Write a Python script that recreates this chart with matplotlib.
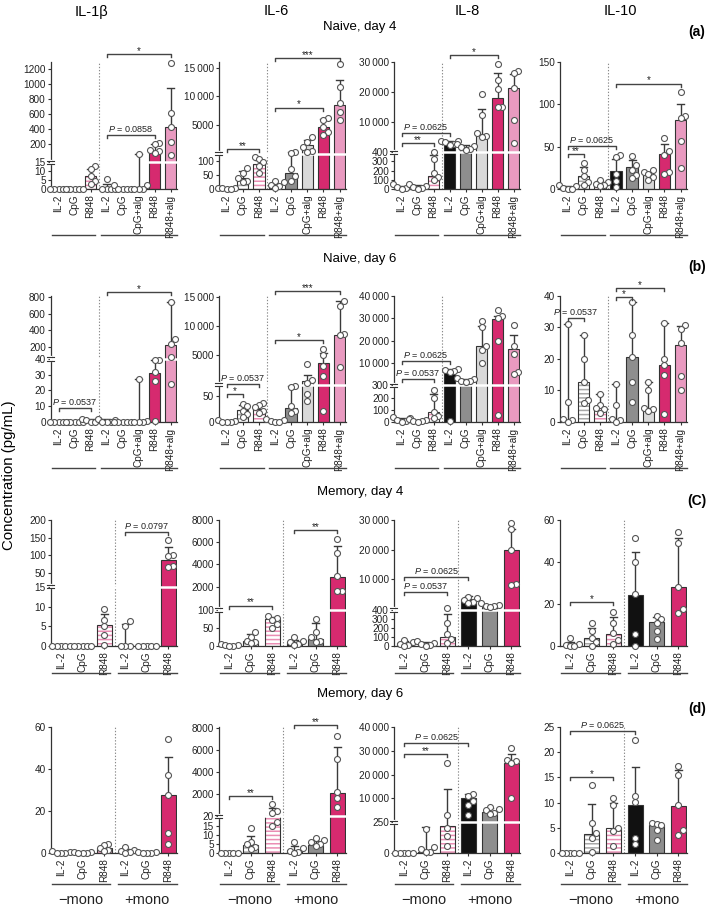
import numpy as np
import matplotlib
matplotlib.use('Agg')
import matplotlib.pyplot as plt
from matplotlib.lines import Line2D

plt.rcParams['font.family'] = ['Liberation Sans', 'DejaVu Sans']
plt.rcParams['mathtext.fontset'] = 'custom'
plt.rcParams['mathtext.it'] = 'Liberation Sans:italic'
plt.rcParams['mathtext.rm'] = 'Liberation Sans'
plt.rcParams['hatch.linewidth'] = 1.1

# ---------------- text / categories ----------------
CYTOKINES = ['IL-1β', 'IL-6', 'IL-8', 'IL-10']
ROW_TITLES = ['Naive, day 4', 'Naive, day 6', 'Memory, day 4', 'Memory, day 6']
PANEL_TAGS = ['(a)', '(b)', '(C)', '(d)']
GROUPS = ['\u2212mono', '+mono']
YLABEL = 'Concentration (pg/mL)'
CATS_8 = ['IL-2', 'CpG', 'R848', 'IL-2', 'CpG', 'CpG+alg', 'R848', 'R848+alg']
CATS_6 = ['IL-2', 'CpG', 'R848', 'IL-2', 'CpG', 'R848']

# ---------------- Naive, day 4 ----------------
N4_IL1B_TICKS = [0, 5, 10, 15, 200, 400, 600, 800, 1000, 1200]
N4_IL1B_BAR = [0, 0, 7.5, 0.5, 0, 1, 100, 420]
N4_IL1B_ERR = [0, 0, 11, 3, 0, 60, 200, 950]
N4_IL1B_PTS = [[0, 0, 0, 0, 0], [0, 0, 0, 0, 0], [13, 11, 7.5, 4.5, 3], [5.5, 0, 0, 0, 0],
               [2, 0, 0, 0, 0], [60, 2, 0, 0, 0], [215, 195, 120, 100, 80], [1290, 610, 420, 220, 55]]
N4_IL1B_SIG = [(3, 7, '*'), (3, 6, '$P$ = 0.0858')]

N4_IL6_TICKS = [0, 50, 100, 5000, 10000, 15000]
N4_IL6_BAR = [2, 40, 88, 15, 55, 1500, 4700, 8500]
N4_IL6_ERR = [4, 65, 102, 22, 350, 2400, 6000, 12800]
N4_IL6_PTS = [[5, 3, 2, 0, 0], [75, 55, 40, 30, 25], [115, 105, 95, 80, 58], [30, 25, 15, 10, 5],
              [350, 130, 70, 45, 30], [2950, 2100, 1100, 520, 350], [6200, 5800, 4700, 3700, 3300],
              [15600, 11600, 8900, 7200, 5800]]
N4_IL6_SIG = [(0, 2, '**'), (3, 7, '***'), (3, 6, '*')]

N4_IL8_TICKS = [0, 100, 200, 300, 400, 10000, 20000, 30000]
N4_IL8_BAR = [20, 20, 140, 3200, 1900, 6000, 18000, 21500]
N4_IL8_ERR = [35, 40, 370, 3900, 2500, 14500, 26500, 26000]
N4_IL8_PTS = [[50, 35, 20, 10, 5], [50, 35, 20, 10, 5], [400, 330, 170, 130, 100],
              [3900, 3600, 3300, 2900, 2500], [2800, 2200, 1900, 1200, 900],
              [19400, 12400, 6300, 5500, 5200], [29300, 24000, 21200, 15200, 15000],
              [27200, 26500, 21500, 10800, 3200]]
N4_IL8_SIG = [(0, 2, '**'), (0, 3, '$P$ = 0.0625'), (3, 6, '*')]

N4_IL10_TICKS = [0, 50, 100, 150]
N4_IL10_BAR = [1, 15, 5, 21, 26, 16, 41, 81]
N4_IL10_ERR = [3, 25.5, 10, 35, 34, 20, 53, 100]
N4_IL10_PTS = [[5, 3, 1, 0, 0], [31, 22, 15, 8, 5], [11, 8, 6, 5, 4], [40, 38, 18, 9, 2],
               [39, 28, 22, 17, 12.5], [23, 20, 18, 14, 11], [60, 45, 40, 20, 18], [114, 86, 84, 57, 25]]
N4_IL10_SIG = [(0, 1, '**'), (0, 3, '$P$ = 0.0625'), (3, 7, '*')]

# ---------------- Naive, day 6 ----------------
N6_IL1B_TICKS = [0, 10, 20, 30, 40, 200, 400, 600, 800]
N6_IL1B_BAR = [0, 0, 1, 0.5, 0, 0.5, 31, 220]
N6_IL1B_ERR = [0, 0, 2, 2, 0, 27, 42, 740]
N6_IL1B_PTS = [[0, 0, 0, 0, 0], [0, 0, 0, 0, 0], [2, 1, 1, 0, 0], [2, 1, 0, 0, 0],
               [0, 0, 0, 0, 0], [27, 0.5, 0, 0, 0], [42, 41, 32, 26, 0.5], [740, 290, 235, 80, 24]]
N6_IL1B_SIG = [(0, 2, '$P$ = 0.0537'), (3, 7, '*')]

N6_IL6_TICKS = [0, 50, 5000, 10000, 15000]
N6_IL6_BAR = [1, 23, 25, 1, 27, 400, 3500, 8500]
N6_IL6_ERR = [2, 33, 30, 3, 69, 1500, 5300, 14400]
N6_IL6_PTS = [[3, 1, 0, 0, 0], [35, 30, 22, 15, 10], [37, 33, 28, 22, 17], [5, 3, 1, 0, 0],
              [69, 68, 30, 22, 18], [3400, 700, 150, 55, 40], [6000, 5000, 3000, 1300, 21],
              [14300, 13500, 8700, 8500, 2900]]
N6_IL6_SIG = [(0, 1, '*'), (0, 2, '$P$ = 0.0537'), (3, 7, '***'), (3, 6, '*')]

N6_IL8_TICKS = [0, 100, 200, 300, 10000, 20000, 30000, 40000]
N6_IL8_BAR = [10, 10, 85, 6000, 1900, 17500, 29500, 16500]
N6_IL8_ERR = [30, 20, 226, 7500, 3000, 26600, 31000, 22500]
N6_IL8_PTS = [[40, 30, 15, 5, 0], [25, 20, 10, 5, 0], [260, 200, 80, 50, 30],
              [7300, 6800, 6300, 5800, 10], [3500, 2700, 2000, 1800, 1500],
              [29000, 26000, 17500, 16000, 10000], [33700, 31000, 30000, 20000, 57],
              [27000, 17500, 14000, 6000, 5000]]
N6_IL8_SIG = [(0, 2, '$P$ = 0.0537'), (0, 3, '$P$ = 0.0625')]

N6_IL10_TICKS = [0, 10, 20, 30, 40]
N6_IL10_BAR = [0.5, 12.8, 4.9, 0.5, 20.5, 4.3, 18.1, 24.6]
N6_IL10_ERR = [31, 27.5, 9, 12, 38, 12.8, 31.4, 30.5]
N6_IL10_PTS = [[31, 6.5, 1, 0.5, 0], [27.5, 20, 12.8, 7, 6], [9, 5.5, 4.5, 4, 3], [12, 5.3, 1, 0.5, 0],
               [38, 27.5, 20.5, 12.8, 6.5], [12.8, 10.2, 4.5, 4, 3.5], [31.4, 19.9, 18, 15, 2.5],
               [30.9, 29.5, 25, 14.5, 10.2]]
N6_IL10_SIG = [(0, 1, '$P$ = 0.0537'), (3, 4, '*'), (3, 6, '*')]

# ---------------- Memory, day 4 ----------------
M4_IL1B_TICKS = [0, 5, 10, 15, 50, 100, 150, 200]
M4_IL1B_BAR = [0, 0, 5.4, 0.3, 0, 86]
M4_IL1B_ERR = [0, 0, 8, 5.6, 0, 124]
M4_IL1B_PTS = [[0, 0, 0, 0, 0], [0, 0, 0, 0, 0], [9.3, 6.5, 5, 2.7, 0.3], [6.3, 5, 0, 0, 0],
               [0, 0, 0, 0, 0], [143, 100, 97, 70, 65]]
M4_IL1B_SIG = [(3, 5, '$P$ = 0.0797')]

M4_IL6_TICKS = [0, 50, 100, 2000, 4000, 6000, 8000]
M4_IL6_BAR = [2, 15, 75, 10, 20, 2900]
M4_IL6_ERR = [3, 33, 80, 17, 63, 5700]
M4_IL6_PTS = [[5, 3, 2, 1, 0], [40, 25, 15, 10, 8], [83, 78, 72, 60, 50], [25, 15, 10, 5, 3],
              [75, 40, 25, 15, 10], [6300, 5000, 3000, 1650, 1600]]
M4_IL6_SIG = [(0, 2, '**'), (3, 5, '**')]

M4_IL8_TICKS = [0, 100, 200, 300, 400, 10000, 20000, 30000]
M4_IL8_BAR = [30, 25, 105, 3300, 820, 20000]
M4_IL8_ERR = [50, 40, 350, 4300, 1500, 27000]
M4_IL8_PTS = [[70, 40, 20, 10, 5], [50, 30, 20, 10, 5], [420, 250, 130, 80, 30],
              [4000, 3800, 3000, 2500, 2000], [1900, 1500, 1200, 900, 800],
              [29000, 27000, 20000, 8500, 8000]]
M4_IL8_SIG = [(0, 2, '$P$ = 0.0537'), (0, 3, '$P$ = 0.0625')]

M4_IL10_TICKS = [0, 20, 40, 60]
M4_IL10_BAR = [0.5, 4, 5.8, 24.5, 11.5, 28]
M4_IL10_ERR = [2, 8.5, 14, 45, 14, 51.5]
M4_IL10_PTS = [[4, 1, 0.5, 0, 0], [11, 7, 4, 2, 0], [16, 11, 6, 3, 1], [51.5, 40, 25, 5.7, 0],
               [14.5, 13, 11, 7, 3.5], [54.5, 49, 28, 17.5, 15.5]]
M4_IL10_SIG = [(0, 2, '*')]

# ---------------- Memory, day 6 ----------------
M6_IL1B_TICKS = [0, 20, 40, 60]
M6_IL1B_BAR = [0.3, 0.3, 2.5, 1, 0.3, 27.5]
M6_IL1B_ERR = [0, 0, 4, 2, 0, 45.5]
M6_IL1B_PTS = [[1, 0.5, 0, 0, 0], [0.5, 0.5, 0, 0, 0], [4.5, 4, 2.5, 1.5, 1], [3, 1.5, 1, 0.5, 0],
               [0.5, 0.5, 0, 0, 0], [54.5, 37, 27.5, 9.5, 4.5]]
M6_IL1B_SIG = []

M6_IL6_TICKS = [0, 5, 10, 15, 20, 2000, 4000, 6000, 8000]
M6_IL6_BAR = [0, 4.5, 20, 1.5, 4.5, 2060]
M6_IL6_ERR = [0, 9.5, 700, 4, 6.5, 6300]
M6_IL6_PTS = [[0, 0, 0, 0, 0], [13.5, 6, 5, 3.5, 2], [1100, 420, 250, 17, 15], [6, 2.5, 1, 0.5, 0],
              [8, 7, 6, 5, 4], [7300, 5200, 2200, 1600, 800]]
M6_IL6_SIG = [(0, 2, '**'), (3, 5, '**')]

M6_IL8_TICKS = [0, 250, 10000, 20000, 30000, 40000]
M6_IL8_BAR = [0, 12, 215, 9950, 4100, 25000]
M6_IL8_ERR = [0, 210, 14000, 12000, 5800, 28800]
M6_IL8_PTS = [[0, 0, 0, 0, 0], [195, 50, 30, 10, 5], [25000, 2800, 200, 140, 55],
              [11700, 11000, 9000, 7200, 2800], [6300, 5700, 5000, 4000, 3500],
              [31000, 26000, 25500, 25000, 10000]]
M6_IL8_SIG = [(0, 2, '**'), (0, 3, '$P$ = 0.0625')]

M6_IL10_TICKS = [0, 5, 10, 15, 20, 25]
M6_IL10_BAR = [0, 3.7, 4.9, 9.6, 5.5, 9.4]
M6_IL10_ERR = [0, 9.8, 10, 17, 6, 16.5]
M6_IL10_PTS = [[0, 0, 0, 0, 0], [13.5, 6, 4, 3, 0.2], [11, 9.5, 5, 4.3, 1.3], [22.4, 11.3, 10.1, 3, 1.8],
               [6, 5.8, 5.5, 4.5, 2.5], [17.2, 15.5, 9.5, 4.5, 3.5]]
M6_IL10_SIG = [(0, 2, '*'), (0, 3, '$P$ = 0.0625')]

PANELS = [
    [(N4_IL1B_TICKS, N4_IL1B_BAR, N4_IL1B_ERR, N4_IL1B_PTS, N4_IL1B_SIG),
     (N4_IL6_TICKS, N4_IL6_BAR, N4_IL6_ERR, N4_IL6_PTS, N4_IL6_SIG),
     (N4_IL8_TICKS, N4_IL8_BAR, N4_IL8_ERR, N4_IL8_PTS, N4_IL8_SIG),
     (N4_IL10_TICKS, N4_IL10_BAR, N4_IL10_ERR, N4_IL10_PTS, N4_IL10_SIG)],
    [(N6_IL1B_TICKS, N6_IL1B_BAR, N6_IL1B_ERR, N6_IL1B_PTS, N6_IL1B_SIG),
     (N6_IL6_TICKS, N6_IL6_BAR, N6_IL6_ERR, N6_IL6_PTS, N6_IL6_SIG),
     (N6_IL8_TICKS, N6_IL8_BAR, N6_IL8_ERR, N6_IL8_PTS, N6_IL8_SIG),
     (N6_IL10_TICKS, N6_IL10_BAR, N6_IL10_ERR, N6_IL10_PTS, N6_IL10_SIG)],
    [(M4_IL1B_TICKS, M4_IL1B_BAR, M4_IL1B_ERR, M4_IL1B_PTS, M4_IL1B_SIG),
     (M4_IL6_TICKS, M4_IL6_BAR, M4_IL6_ERR, M4_IL6_PTS, M4_IL6_SIG),
     (M4_IL8_TICKS, M4_IL8_BAR, M4_IL8_ERR, M4_IL8_PTS, M4_IL8_SIG),
     (M4_IL10_TICKS, M4_IL10_BAR, M4_IL10_ERR, M4_IL10_PTS, M4_IL10_SIG)],
    [(M6_IL1B_TICKS, M6_IL1B_BAR, M6_IL1B_ERR, M6_IL1B_PTS, M6_IL1B_SIG),
     (M6_IL6_TICKS, M6_IL6_BAR, M6_IL6_ERR, M6_IL6_PTS, M6_IL6_SIG),
     (M6_IL8_TICKS, M6_IL8_BAR, M6_IL8_ERR, M6_IL8_PTS, M6_IL8_SIG),
     (M6_IL10_TICKS, M6_IL10_BAR, M6_IL10_ERR, M6_IL10_PTS, M6_IL10_SIG)],
]
ROW_CATS = [CATS_8, CATS_8, CATS_6, CATS_6]

# ---------------- layout / style ----------------
W, H = 709, 906
ROW_PX = [(62, 189), (296, 422), (520, 646), (727, 853)]
COL_PX = [(51, 177), (219, 346), (394, 520), (560, 687)]
GROUP_LINE_PX = [235, 468, 673, 884]
# broken-axis parameters: (break value, axes fraction of break, upper start value, top)
SCALES = [
    [(15, 0.21, -50, 1300), (125, 0.278, 0, 16000), (400, 0.289, 0, 30100), (None, None, None, 150)],
    [(40, 0.5, 50, 812), (72, 0.296, -200, 15230), (300, 0.29, 0, 40000), (None, None, None, 40)],
    [(15, 0.47, 10, 200), (100, 0.286, -100, 8000), (400, 0.286, -300, 30000), (None, None, None, 60)],
    [(None, None, None, 60), (20, 0.29, -45, 8100), (250, 0.245, 0, 40000), (None, None, None, 25)],
]
SIG_Y = [
    [[1.063, 0.425], [0.315, 1.03, 0.64], [0.36, 0.44, 1.055], [0.276, 0.34, 0.83]],
    [[0.11, 1.03], [0.22, 0.30, 1.04, 0.65], [0.34, 0.485], [0.825, 0.99, 1.06]],
    [[0.905], [0.32, 0.92], [0.43, 0.55], [0.35]],
    [[], [0.45, 1.015], [0.785, 0.87], [0.6, 0.97]],
]
STYLES_8 = ['open', 'hgrey', 'hpink', 'black', 'grey', 'lgrey', 'magenta', 'pink']
STYLES_6 = ['open', 'hgrey', 'hpink', 'black', 'grey', 'magenta']
FILL = {'open': 'white', 'hgrey': 'white', 'hpink': 'white', 'black': '#111111',
        'grey': '#8e8e8e', 'lgrey': '#d9d9d9', 'magenta': '#d62a6f', 'pink': '#e99ac0'}
HATCH = {'hgrey': '#a8a8a8', 'hpink': '#ea8db4'}
INK = '#333333'
TICK_FS = 7.2


def fig_xy(x, y):
    return x / W, 1 - y / H


def make_fns(b, f, u0, top):
    def fwd(v):
        v = np.asarray(v, dtype=float)
        with np.errstate(all='ignore'):
            lo = v / b * f
            hi = f + (v - u0) / (top - u0) * (1 - f)
        return np.where(v <= b, lo, hi)

    def inv(y):
        y = np.asarray(y, dtype=float)
        with np.errstate(all='ignore'):
            lo = y / f * b
            hi = u0 + (y - f) / (1 - f) * (top - u0)
        return np.where(y <= f, lo, hi)
    return fwd, inv


def fmt_tick(v):
    if v >= 10000:
        return f"{int(v):,}".replace(',', '\u2009')
    return f"{v:g}"


def swarm_offsets(ax, xc, vals, step_px, d_px):
    disp = ax.transData.transform(np.column_stack([np.full(len(vals), xc), vals]))
    ys = disp[:, 1]
    order = np.argsort(ys)
    placed = []
    offs = np.zeros(len(vals))
    for i in order:
        chosen = 0.0
        for k in [0, 1, -1, 2, -2, 3, -3, 4, -4]:
            xo = k * step_px
            ok = all(((xo - px) / step_px) ** 2 + ((ys[i] - py) / d_px) ** 2 >= 0.98
                     for px, py in placed)
            if ok:
                chosen = xo
                break
        placed.append((chosen, ys[i]))
        offs[i] = chosen
    return offs


fig = plt.figure(figsize=(W / 100, H / 100), dpi=100)

for r in range(4):
    cats = ROW_CATS[r]
    n = len(cats)
    styles = STYLES_8 if n == 8 else STYLES_6
    top_px, bot_px = ROW_PX[r]
    for c in range(4):
        l_px, r_px = COL_PX[c]
        x0, y0 = fig_xy(l_px, bot_px)
        ax = fig.add_axes([x0, y0, (r_px - l_px) / W, (bot_px - top_px) / H])
        ticks, bars, errs, pts, sigs = PANELS[r][c]
        b, f, u0, top = SCALES[r][c]
        if b is not None:
            fwd, inv = make_fns(b, f, u0, top)
            ax.set_yscale('function', functions=(fwd, inv))
        ax.set_ylim(0, top)
        ax.set_xlim(-0.47, n - 0.6)
        x = np.arange(n)
        hpx = bot_px - top_px
        px_per_unit = ax.bbox.width / (n - 0.6 + 0.47)

        # bars
        for i in range(n):
            st = styles[i]
            if st in HATCH:
                ax.bar(x[i], bars[i], 0.7, color='white', edgecolor=HATCH[st], hatch='----',
                       linewidth=0, zorder=2)
                ax.bar(x[i], bars[i], 0.7, fill=False, edgecolor=INK, linewidth=0.8, zorder=2.1)
            else:
                ax.bar(x[i], bars[i], 0.7, color=FILL[st], edgecolor=INK, linewidth=0.8, zorder=2)

        # error bars (upper)
        cap = 7 / px_per_unit / 2
        for i in range(n):
            if errs[i] > bars[i]:
                ax.plot([x[i], x[i]], [bars[i], errs[i]], color='#3a3a3a', lw=1.0, zorder=3,
                        solid_capstyle='butt', clip_on=False)
                ax.plot([x[i] - cap, x[i] + cap], [errs[i], errs[i]], color='#3a3a3a', lw=1.0,
                        zorder=3, clip_on=False)

        # separator
        ax.plot([2.5, 2.5], [0, 1], transform=ax.get_xaxis_transform(), color='#8a8a8a',
                lw=0.8, ls=(0, (1.2, 1.6)), zorder=1.5, clip_on=False)

        # break
        if b is not None:
            ax.plot([0.012, 1], [f, f], transform=ax.transAxes, color='white', lw=1.8, zorder=2.6)
            dx = 4.0 / ax.bbox.width
            dxr = 3.0 / ax.bbox.width
            dy = 1.6 / hpx
            ax.add_line(Line2D([0, 0], [f - dy, f + dy], transform=ax.transAxes, color='white',
                               lw=1.6, zorder=5, clip_on=False))
            for s in (-1, 1):
                ax.add_line(Line2D([-dx, dxr], [f + s * dy, f + s * dy], transform=ax.transAxes,
                                   color=INK, lw=0.8, zorder=6, clip_on=False))

        # points
        for i in range(n):
            vals = np.asarray(pts[i], dtype=float)
            offs = swarm_offsets(ax, x[i], vals, 4.3, 5.8)
            ax.plot(x[i] + offs / px_per_unit, vals, 'o', ms=4.3, mfc='white', mec='#555555',
                    mew=0.8, zorder=4, clip_on=False, ls='none')

        # significance brackets
        for (i, j, lab), yf in zip(sigs, SIG_Y[r][c]):
            tk = 3.0 / hpx
            ax.plot([x[i], x[i], x[j], x[j]], [yf - tk, yf, yf, yf - tk],
                    transform=ax.get_xaxis_transform(), color='#444444', lw=1.0,
                    zorder=5, clip_on=False)
            if lab.startswith('*'):
                ax.text((x[i] + x[j]) / 2, yf + 3.2 / hpx, lab, transform=ax.get_xaxis_transform(),
                        ha='center', va='center', fontsize=7, color='#222222')
            else:
                ax.text((x[i] + x[j]) / 2, yf + 1.0 / hpx, lab, transform=ax.get_xaxis_transform(),
                        ha='center', va='bottom', fontsize=6.5, color='#222222')

        # axes styling
        for sp in ('top', 'right'):
            ax.spines[sp].set_visible(False)
        for sp in ('left', 'bottom'):
            ax.spines[sp].set_color(INK)
            ax.spines[sp].set_linewidth(0.9)
        ax.set_yticks(ticks, [fmt_tick(t) for t in ticks])
        ax.minorticks_off()
        ax.tick_params(axis='y', length=2.5, width=0.8, pad=1.2, labelsize=TICK_FS,
                       colors=INK, labelcolor='#222222')
        ax.set_xticks(x, cats)
        ax.tick_params(axis='x', length=2.5, width=0.8, pad=1.5, labelsize=TICK_FS,
                       labelrotation=90, colors=INK, labelcolor='#222222')
        ax.set_facecolor('none')

        # group underlines
        gy = -(GROUP_LINE_PX[r] - bot_px) / hpx
        for (xa, xb) in [(-0.42, 2.3), (2.65, n - 0.62)]:
            ax.plot([xa, xb], [gy, gy], transform=ax.get_xaxis_transform(), color='#444444',
                    lw=1.0, clip_on=False)
        if r == 3:
            for k, (xa, xb) in enumerate([(-0.42, 2.3), (2.65, n - 0.62)]):
                ax.text((xa + xb) / 2, -(900 - bot_px) / hpx, GROUPS[k],
                        transform=ax.get_xaxis_transform(), ha='center', va='center',
                        fontsize=10.5, color='#222222')

# titles
for c, (xx, yy) in enumerate([(91, 12), (276, 11), (467, 11), (620, 11)]):
    fig.text(*fig_xy(xx, yy), CYTOKINES[c], ha='center', va='center', fontsize=10.5)
for r, yy in enumerate([27, 259, 492, 694]):
    fig.text(*fig_xy(360, yy), ROW_TITLES[r], ha='center', va='center', fontsize=9.5)
for r, yy in enumerate([32, 267, 501, 709]):
    fig.text(*fig_xy(697, yy), PANEL_TAGS[r], ha='center', va='center', fontsize=10,
             fontweight='bold')
fig.text(*fig_xy(9, 475), YLABEL, rotation=90, ha='center', va='center', fontsize=10.8)

fig.savefig('out.png', dpi=100)
